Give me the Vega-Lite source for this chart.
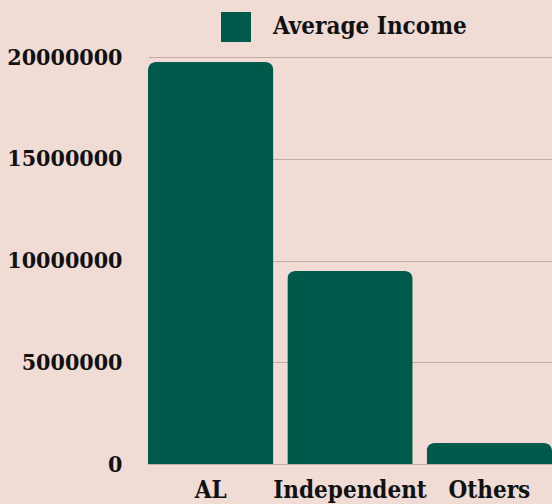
{
  "$schema": "https://vega.github.io/schema/vega-lite/v6.json",
  "autosize": {"type": "none"},
  "width": 404,
  "height": 407,
  "padding": {"left": 148, "top": 57, "right": 0, "bottom": 40},
  "background": "#f0dbd5",
  "config": {
    "view": {"stroke": null},
    "font": "DejaVu Serif Condensed, DejaVu Serif"
  },
  "data": {
    "values": [
      {"party": "AL", "income": 19750000},
      {"party": "Independent", "income": 9480000},
      {"party": "Others", "income": 1030000}
    ]
  },
  "mark": {"type": "bar", "cornerRadiusTopLeft": 8, "cornerRadiusTopRight": 8},
  "encoding": {
    "x": {
      "field": "party",
      "type": "nominal",
      "sort": null,
      "scale": {"paddingInner": 0.1, "paddingOuter": 0},
      "axis": {
        "title": null,
        "labelAngle": 0,
        "domain": false,
        "ticks": false,
        "labelFont": "DejaVu Serif Condensed, DejaVu Serif",
        "labelFontWeight": "bold",
        "labelFontSize": 24,
        "labelColor": "#111111",
        "labelPadding": 14
      }
    },
    "y": {
      "field": "income",
      "type": "quantitative",
      "scale": {"domain": [0, 20000000], "nice": false},
      "axis": {
        "title": null,
        "values": [0, 5000000, 10000000, 15000000, 20000000],
        "format": "d",
        "domain": false,
        "ticks": false,
        "gridColor": "#c3aca5",
        "gridWidth": 1,
        "labelFont": "DejaVu Serif Condensed, DejaVu Serif",
        "labelFontWeight": "bold",
        "labelFontSize": 23,
        "labelColor": "#111111",
        "labelPadding": 26
      }
    },
    "color": {
      "datum": "Average Income",
      "type": "nominal",
      "scale": {"range": ["#005a4b"]},
      "legend": {
        "title": null,
        "orient": "none",
        "legendX": 73,
        "legendY": -45,
        "symbolType": "square",
        "symbolSize": 900,
        "symbolStrokeWidth": 0,
        "symbolOpacity": 1,
        "labelFont": "DejaVu Serif Condensed, DejaVu Serif",
        "labelFontWeight": "bold",
        "labelFontSize": 24,
        "labelColor": "#111111",
        "labelOffset": 22,
        "labelLimit": 300
      }
    }
  }
}
